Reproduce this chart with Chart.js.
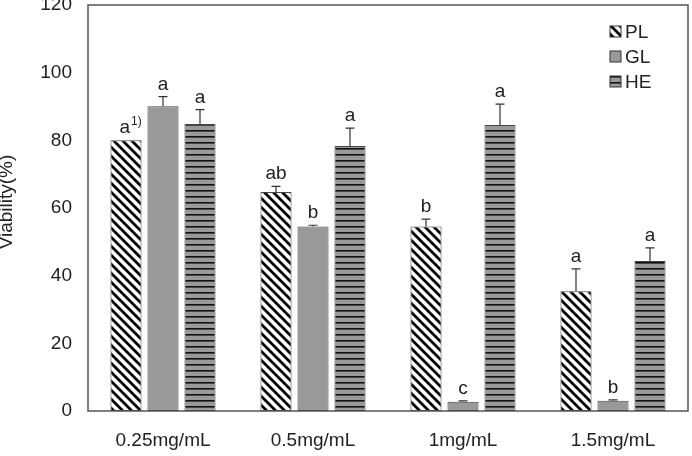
<!DOCTYPE html>
<html>
<head>
<meta charset="utf-8">
<script src="https://cdn.jsdelivr.net/npm/chart.js@4.4.1/dist/chart.umd.min.js"></script>
<style>
  html, body { margin: 0; padding: 0; background: #fff; }
  #wrap { width: 692px; height: 456px; }
</style>
</head>
<body>
<div id="wrap"><canvas id="chart" width="692" height="456"></canvas></div>
<script>
const categories = ["0.25mg/mL", "0.5mg/mL", "1mg/mL", "1.5mg/mL"];
const seriesNames = ["PL", "GL", "HE"];

const plValues = [80.0, 64.7, 54.5, 35.4];
const glValues = [90.1, 54.5, 2.7, 3.0];
const heValues = [84.8, 78.3, 84.5, 44.3];

const plErr = [0, 1.7, 2.2, 6.6];
const glErr = [2.8, 0.4, 0.3, 0.3];
const heErr = [4.3, 5.3, 6.2, 3.9];

const plMarks = ["a", "ab", "b", "a"];
const glMarks = ["a", "b", "c", "b"];
const heMarks = ["a", "a", "a", "a"];

const yTicks = [0, 20, 40, 60, 80, 100, 120];

const FONT = "'Liberation Sans', Arial, sans-serif";
const TEXT = "#222";

const ctx = document.getElementById("chart").getContext("2d");

function diagPattern() {
  const s = 9;
  const c = document.createElement("canvas");
  c.width = s; c.height = s;
  const g = c.getContext("2d");
  g.fillStyle = "#fff";
  g.fillRect(0, 0, s, s);
  g.strokeStyle = "#000";
  g.lineWidth = 2.8;
  g.beginPath();
  g.moveTo(-2, -2); g.lineTo(s + 2, s + 2);
  g.moveTo(-2, s - 2); g.lineTo(2, s + 2);
  g.moveTo(s - 2, -2); g.lineTo(s + 2, 2);
  g.stroke();
  return ctx.createPattern(c, "repeat");
}

function hLinePattern() {
  const c = document.createElement("canvas");
  c.width = 4; c.height = 6;
  const g = c.getContext("2d");
  g.fillStyle = "#999";
  g.fillRect(0, 0, 4, 6);
  g.fillStyle = "#111";
  g.fillRect(0, 4, 4, 1.6);
  return ctx.createPattern(c, "repeat");
}

const fills = [diagPattern(), "#999999", hLinePattern()];
const errs = [plErr, glErr, heErr];
const marks = [plMarks, glMarks, heMarks];

const extrasPlugin = {
  id: "extras",
  afterDatasetsDraw(chart) {
    const c = chart.ctx;
    const y = chart.scales.y;
    const area = chart.chartArea;

    // error bars and letters
    chart.data.datasets.forEach((ds, i) => {
      const meta = chart.getDatasetMeta(i);
      meta.data.forEach((bar, j) => {
        const v = ds.data[j];
        const e = errs[i][j];
        const yTop = y.getPixelForValue(v + e);
        const yVal = y.getPixelForValue(v);
        if (e > 0) {
          c.save();
          c.strokeStyle = "#333";
          c.lineWidth = 1.2;
          c.beginPath();
          c.moveTo(bar.x, yVal);
          c.lineTo(bar.x, yTop);
          c.moveTo(bar.x - 4.5, yTop);
          c.lineTo(bar.x + 4.5, yTop);
          c.stroke();
          c.restore();
        }
        c.save();
        c.fillStyle = TEXT;
        c.font = "19px " + FONT;
        c.textBaseline = "alphabetic";
        const base = yTop - 7;
        if (i === 0 && j === 0) {
          c.textAlign = "right";
          c.fillText(marks[i][j], bar.x + 4, base);
          c.textAlign = "left";
          c.font = "12px " + FONT;
          c.fillText("1)", bar.x + 5, base - 8);
        } else {
          c.textAlign = "center";
          c.fillText(marks[i][j], bar.x, base);
        }
        c.restore();
      });
    });

    // frame
    c.save();
    c.strokeStyle = "#555";
    c.lineWidth = 1.5;
    c.strokeRect(area.left, area.top, area.right - area.left, area.bottom - area.top);
    c.restore();

    // legend
    const legX = 610, legY = [32, 57, 82];
    seriesNames.forEach((name, i) => {
      c.save();
      c.fillStyle = fills[i];
      c.fillRect(legX, legY[i] - 6, 11, 11);
      c.strokeStyle = "#333";
      c.lineWidth = 1;
      c.strokeRect(legX, legY[i] - 6, 11, 11);
      c.fillStyle = TEXT;
      c.font = "19px " + FONT;
      c.textBaseline = "middle";
      c.textAlign = "left";
      c.fillText(name, legX + 15, legY[i] + 1);
      c.restore();
    });

    // y axis title
    c.save();
    c.translate(12, (area.top + area.bottom) / 2 - 6);
    c.rotate(-Math.PI / 2);
    c.fillStyle = TEXT;
    c.font = "19px " + FONT;
    c.textAlign = "center";
    c.textBaseline = "alphabetic";
    c.fillText("Viability(%)", 0, 0);
    c.restore();
  },
};

const chart = new Chart(ctx, {
  type: "bar",
  data: {
    labels: categories,
    datasets: [
      { label: seriesNames[0], data: plValues, backgroundColor: fills[0] },
      { label: seriesNames[1], data: glValues, backgroundColor: fills[1] },
      { label: seriesNames[2], data: heValues, backgroundColor: fills[2] },
    ].map((d) => ({
      ...d,
      borderColor: "#444",
      borderWidth: 1,
      borderSkipped: false,
      categoryPercentage: 0.74,
      barPercentage: 0.84,
    })),
  },
  options: {
    responsive: false,
    animation: false,
    devicePixelRatio: 1,
    layout: { padding: { top: 5, right: 4, left: 0, bottom: 0 } },
    plugins: {
      legend: { display: false },
      tooltip: { enabled: false },
    },
    scales: {
      y: {
        min: 0,
        max: 120,
        afterBuildTicks: (scale) => {
          scale.ticks = yTicks.map((v) => ({ value: v }));
        },
        afterFit: (scale) => {
          scale.width = 88;
          scale.paddingTop = 0;
          scale.paddingBottom = 0;
        },
        grid: { display: false, drawTicks: false },
        border: { display: false },
        ticks: {
          padding: 16,
          color: TEXT,
          font: { family: FONT, size: 19 },
        },
      },
      x: {
        afterFit: (scale) => {
          scale.height = 45;
          scale.paddingLeft = 0;
          scale.paddingRight = 0;
        },
        grid: { display: false, drawTicks: false },
        border: { display: false },
        ticks: {
          padding: 18,
          color: TEXT,
          maxRotation: 0,
          font: { family: FONT, size: 19 },
        },
      },
    },
  },
  plugins: [extrasPlugin],
});
</script>
</body>
</html>
